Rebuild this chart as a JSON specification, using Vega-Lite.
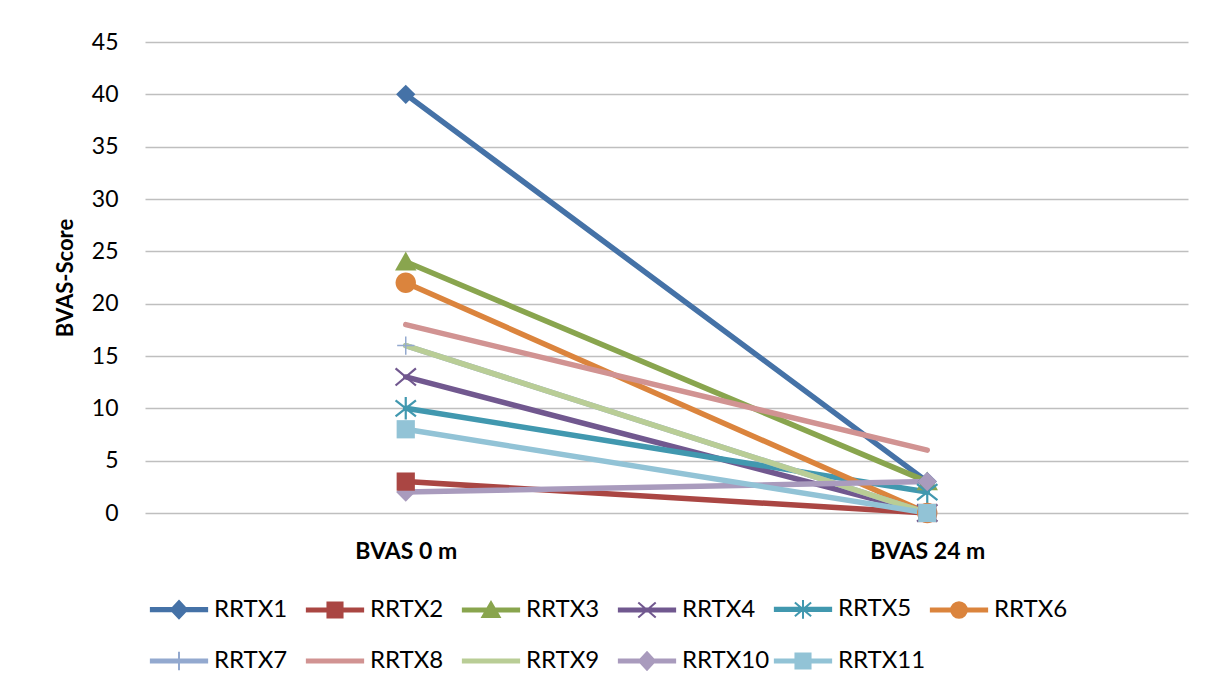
{
  "$schema": "https://vega.github.io/schema/vega-lite/v6.json",
  "width": 1043,
  "height": 471,
  "autosize": "none",
  "padding": {"left": 145, "top": 42, "right": 26, "bottom": 178},
  "background": "white",
  "config": {"font": "Lato", "view": {"stroke": null}},
  "datasets": {
    "scores": [
      {"series": "RRTX1", "time": "BVAS 0 m", "score": 40},
      {"series": "RRTX1", "time": "BVAS 24 m", "score": 3},
      {"series": "RRTX2", "time": "BVAS 0 m", "score": 3},
      {"series": "RRTX2", "time": "BVAS 24 m", "score": 0},
      {"series": "RRTX3", "time": "BVAS 0 m", "score": 24},
      {"series": "RRTX3", "time": "BVAS 24 m", "score": 3},
      {"series": "RRTX4", "time": "BVAS 0 m", "score": 13},
      {"series": "RRTX4", "time": "BVAS 24 m", "score": 0},
      {"series": "RRTX5", "time": "BVAS 0 m", "score": 10},
      {"series": "RRTX5", "time": "BVAS 24 m", "score": 2},
      {"series": "RRTX6", "time": "BVAS 0 m", "score": 22},
      {"series": "RRTX6", "time": "BVAS 24 m", "score": 0},
      {"series": "RRTX7", "time": "BVAS 0 m", "score": 16},
      {"series": "RRTX7", "time": "BVAS 24 m", "score": 0},
      {"series": "RRTX8", "time": "BVAS 0 m", "score": 18},
      {"series": "RRTX8", "time": "BVAS 24 m", "score": 6},
      {"series": "RRTX9", "time": "BVAS 0 m", "score": 16},
      {"series": "RRTX9", "time": "BVAS 24 m", "score": 0},
      {"series": "RRTX10", "time": "BVAS 0 m", "score": 2},
      {"series": "RRTX10", "time": "BVAS 24 m", "score": 3},
      {"series": "RRTX11", "time": "BVAS 0 m", "score": 8},
      {"series": "RRTX11", "time": "BVAS 24 m", "score": 0}
    ]
  },
  "data": {"name": "scores"},
  "encoding": {
    "x": {
      "field": "time",
      "type": "nominal",
      "sort": ["BVAS 0 m", "BVAS 24 m"],
      "scale": {"type": "point", "padding": 0.5},
      "axis": {
        "title": null,
        "labelAngle": 0,
        "labelFont": "Lato",
        "labelFontSize": 23,
        "labelFontWeight": "bold",
        "labelColor": "#000000",
        "labelPadding": 27,
        "ticks": false,
        "domain": false,
        "grid": false
      }
    },
    "y": {
      "field": "score",
      "type": "quantitative",
      "scale": {"domain": [0, 45], "nice": false},
      "axis": {
        "values": [0, 5, 10, 15, 20, 25, 30, 35, 40, 45],
        "title": "BVAS-Score",
        "titleFont": "Lato",
        "titleFontSize": 22,
        "titleFontWeight": "bold",
        "titleColor": "#000000",
        "titlePadding": 14,
        "labelFont": "Lato",
        "labelFontSize": 23,
        "labelColor": "#000000",
        "labelPadding": 27,
        "ticks": false,
        "domain": false,
        "gridColor": "#BFBFBF",
        "gridWidth": 1.5
      }
    }
  },
  "layer": [
    {
      "mark": {"type": "line", "strokeWidth": 5.5, "strokeCap": "round", "strokeJoin": "round"},
      "encoding": {
        "color": {
          "field": "series", "type": "nominal", "legend": null,
          "scale": {
            "range": ["#4572A7", "#A99BBD", "#92C3D6", "#AA4643", "#89A54E", "#71588F", "#4198AF", "#DB843D", "#93A9CF", "#D19392", "#B9CD96"]
          }
        }
      }
    },
    {
      "transform": [{"filter": {"field": "series", "equal": "RRTX3"}}],
      "mark": {"type": "point", "filled": true, "opacity": 1, "size": 460, "shape": "M0,-0.95L1,0.8H-1Z"},
      "encoding": {"color": {"field": "series", "type": "nominal", "legend": null}}
    },
    {
      "transform": [{"filter": {"field": "series", "equal": "RRTX4"}}],
      "mark": {"type": "point", "filled": false, "opacity": 1, "size": 460, "strokeWidth": 2.2, "shape": "M-0.95,-0.8L0.95,0.8M-0.95,0.8L0.95,-0.8"},
      "encoding": {"color": {"field": "series", "type": "nominal", "legend": null}}
    },
    {
      "transform": [{"filter": {"field": "series", "equal": "RRTX5"}}],
      "mark": {"type": "point", "filled": false, "opacity": 1, "size": 460, "strokeWidth": 2.2, "shape": "M-0.95,-0.75L0.95,0.75M-0.95,0.75L0.95,-0.75M0,-1.05V1.05"},
      "encoding": {"color": {"field": "series", "type": "nominal", "legend": null}}
    },
    {
      "transform": [{"filter": {"field": "series", "equal": "RRTX6"}}],
      "mark": {"type": "point", "filled": true, "opacity": 1, "size": 460, "shape": "M-0.95,0A0.95,0.95,0,1,1,0.95,0A0.95,0.95,0,1,1,-0.95,0Z"},
      "encoding": {"color": {"field": "series", "type": "nominal", "legend": null}}
    },
    {
      "transform": [{"filter": {"field": "series", "equal": "RRTX7"}}],
      "mark": {"type": "point", "filled": false, "opacity": 1, "size": 460, "strokeWidth": 1.5, "shape": "M-0.8,0H0.8M0,-0.85V0.85"},
      "encoding": {"color": {"field": "series", "type": "nominal", "legend": null}}
    },
    {
      "transform": [{"filter": {"field": "series", "oneOf": ["RRTX1", "RRTX10"]}}],
      "mark": {"type": "point", "filled": true, "opacity": 1, "size": 460, "shape": "M0,-0.9L0.9,0L0,0.9L-0.9,0Z"},
      "encoding": {"color": {"field": "series", "type": "nominal", "legend": null}}
    },
    {
      "transform": [{"filter": {"field": "series", "oneOf": ["RRTX2", "RRTX11"]}}],
      "mark": {"type": "point", "filled": true, "opacity": 1, "size": 460, "shape": "M-0.85,-0.85H0.85V0.85H-0.85Z"},
      "encoding": {"color": {"field": "series", "type": "nominal", "legend": null}}
    },
    {
      "mark": {"type": "point", "opacity": 0},
      "encoding": {
        "fill": {
          "field": "series",
          "type": "nominal",
          "scale": {
            "domain": ["RRTX1", "RRTX2", "RRTX3", "RRTX4", "RRTX5", "RRTX6", "RRTX7", "RRTX8", "RRTX9", "RRTX10", "RRTX11"],
            "range": ["#4572A7", "#AA4643", "#89A54E", "#71588F", "#4198AF", "#DB843D", "#93A9CF", "#D19392", "#B9CD96", "#A99BBD", "#92C3D6"]
          },
          "legend": {
            "title": null,
            "orient": "none",
            "legendX": 4,
            "legendY": 537,
            "direction": "horizontal",
            "columns": 6,
            "gridAlign": "all",
            "symbolSize": 3364,
            "symbolStrokeWidth": 2,
            "symbolOpacity": 1,
            "labelFont": "Lato",
            "labelFontSize": 24,
            "labelColor": "#000000",
            "labelOffset": 5,
            "labelLimit": 0,
            "columnPadding": 0,
            "rowPadding": 8,
            "padding": 0
          }
        },
        "stroke": {
          "field": "series",
          "type": "nominal",
          "scale": {
            "domain": ["RRTX1", "RRTX2", "RRTX3", "RRTX4", "RRTX5", "RRTX6", "RRTX7", "RRTX8", "RRTX9", "RRTX10", "RRTX11"],
            "range": ["#4572A7", "#AA4643", "#89A54E", "#71588F", "#4198AF", "#DB843D", "#93A9CF", "#D19392", "#B9CD96", "#A99BBD", "#92C3D6"]
          },
          "legend": {
            "title": null,
            "orient": "none",
            "legendX": 4,
            "legendY": 537,
            "direction": "horizontal",
            "columns": 6,
            "gridAlign": "all",
            "symbolSize": 3364,
            "symbolStrokeWidth": 2,
            "symbolOpacity": 1,
            "labelFont": "Lato",
            "labelFontSize": 24,
            "labelColor": "#000000",
            "labelOffset": 5,
            "labelLimit": 0,
            "columnPadding": 0,
            "rowPadding": 8,
            "padding": 0
          }
        },
        "shape": {
          "field": "series",
          "type": "nominal",
          "scale": {
            "domain": ["RRTX1", "RRTX2", "RRTX3", "RRTX4", "RRTX5", "RRTX6", "RRTX7", "RRTX8", "RRTX9", "RRTX10", "RRTX11"],
            "range": [
              "M-0.97,-0.055H0.97V0.055H-0.97ZM0,-0.3L0.28,0L0,0.3L-0.28,0Z",
              "M-0.97,-0.055H0.97V0.055H-0.97ZM-0.26,-0.26H0.26V0.26H-0.26Z",
              "M-0.97,-0.055H0.97V0.055H-0.97ZM0,-0.28L0.3,0.24H-0.3Z",
              "M-0.97,-0.055H0.97V0.055H-0.97ZM-0.3,-0.26L0.3,0.26M-0.3,0.26L0.3,-0.26",
              "M-0.97,-0.055H0.97V0.055H-0.97ZM-0.28,-0.24L0.28,0.24M-0.28,0.24L0.28,-0.24M0,-0.32V0.32",
              "M-0.97,-0.055H0.97V0.055H-0.97ZM-0.27,0A0.27,0.27,0,1,1,0.27,0A0.27,0.27,0,1,1,-0.27,0Z",
              "M-0.97,-0.055H0.97V0.055H-0.97ZM0,-0.32V0.32",
              "M-0.97,-0.055H0.97V0.055H-0.97Z",
              "M-0.97,-0.055H0.97V0.055H-0.97Z",
              "M-0.97,-0.055H0.97V0.055H-0.97ZM0,-0.3L0.28,0L0,0.3L-0.28,0Z",
              "M-0.97,-0.055H0.97V0.055H-0.97ZM-0.26,-0.26H0.26V0.26H-0.26Z"
            ]
          },
          "legend": {
            "title": null,
            "orient": "none",
            "legendX": 4,
            "legendY": 537,
            "direction": "horizontal",
            "columns": 6,
            "gridAlign": "all",
            "symbolSize": 3364,
            "symbolStrokeWidth": 2,
            "symbolOpacity": 1,
            "labelFont": "Lato",
            "labelFontSize": 24,
            "labelColor": "#000000",
            "labelOffset": 5,
            "labelLimit": 0,
            "columnPadding": 0,
            "rowPadding": 8,
            "padding": 0
          }
        }
      }
    }
  ]
}
